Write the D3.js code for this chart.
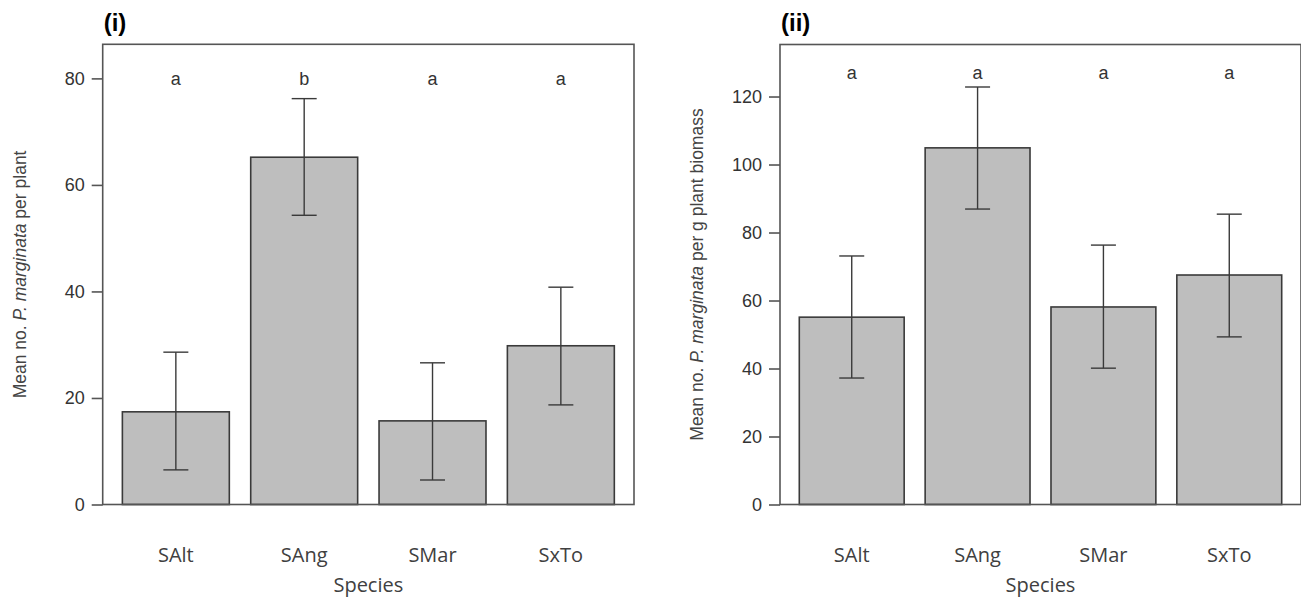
<!DOCTYPE html>
<html>
<head>
<meta charset="utf-8">
<script src="https://cdn.jsdelivr.net/npm/d3@7"></script>
<style>
  body { margin: 0; background: #fff; }
  svg { display: block; }
  .tick-label { font-family: "Liberation Sans", Arial, sans-serif; font-size: 18px; fill: #333; }
  .cat-label { font-family: "Open Sans", "Noto Sans", sans-serif; font-size: 20px; fill: #404040; }
  .ytitle { font-family: "Liberation Sans", Arial, sans-serif; font-size: 17.5px; fill: #444; }
  .letter { font-family: "Liberation Sans", Arial, sans-serif; font-size: 18px; fill: #333; }
  .panel { font-family: "Liberation Sans", Arial, sans-serif; font-size: 24px; font-weight: bold; fill: #000; }
</style>
</head>
<body>
<svg id="chart" width="1301" height="600"></svg>
<script>
(function () {

    // data
    var species = ['SAlt', 'SAng', 'SMar', 'SxTo'];

    var perPlantMean = [17.4, 65.2, 15.7, 29.8];
    var perPlantLow = [6.5, 54.3, 4.6, 18.7];
    var perPlantHigh = [28.6, 76.2, 26.6, 40.8];
    var perPlantLetters = ['a', 'b', 'a', 'a'];
    var perPlantTicks = [0, 20, 40, 60, 80];

    var perBiomassMean = [55.1, 104.9, 58.1, 67.5];
    var perBiomassLow = [37.2, 86.9, 40.1, 49.3];
    var perBiomassHigh = [73.1, 122.8, 76.3, 85.4];
    var perBiomassLetters = ['a', 'a', 'a', 'a'];
    var perBiomassTicks = [0, 20, 40, 60, 80, 100, 120];

    var svg = d3.select('#chart');

    drawPanel({
        label: '(i)',
        left: 102.7, right: 634, top: 44.3, bottom: 504.5,
        yMax: 86.4, letterY: 80,
        mean: perPlantMean, low: perPlantLow, high: perPlantHigh,
        letters: perPlantLetters, ticks: perPlantTicks,
        titleX: 20, titleRest: ' per plant'
    });

    drawPanel({
        label: '(ii)',
        left: 780, right: 1301, top: 44.5, bottom: 504.5,
        yMax: 135.3, letterY: 127,
        mean: perBiomassMean, low: perBiomassLow, high: perBiomassHigh,
        letters: perBiomassLetters, ticks: perBiomassTicks,
        titleX: 697, titleRest: ' per g plant biomass'
    });

    function drawPanel(p) {
        var g = svg.append('g');

        // R barplot layout: width 1, space 0.2, 4% padding
        var x = d3.scaleLinear().domain([0.016, 4.984]).range([p.left, p.right]);
        var y = d3.scaleLinear().domain([0, p.yMax]).range([p.bottom, p.top]);

        var barL = function (i) { return x(0.2 + 1.2 * i); };
        var barW = x(1) - x(0);
        var mid = function (i) { return barL(i) + barW / 2; };

        g.selectAll('rect.bar')
            .data(p.mean)
            .enter().append('rect')
                .attr('class', 'bar')
                .attr('x', function (d, i) { return barL(i); })
                .attr('y', function (d) { return y(d); })
                .attr('width', barW)
                .attr('height', function (d) { return y(0) - y(d); })
                .attr('fill', '#bebebe')
                .attr('stroke', '#3a3a3a')
                .attr('stroke-width', 1.6);

        // error bars
        var cap = 12.5;
        var err = g.selectAll('g.err')
            .data(p.mean)
            .enter().append('g')
                .attr('class', 'err')
                .attr('stroke', '#3a3a3a')
                .attr('stroke-width', 1.4);

        err.append('line')
            .attr('x1', function (d, i) { return mid(i); })
            .attr('x2', function (d, i) { return mid(i); })
            .attr('y1', function (d, i) { return y(p.low[i]); })
            .attr('y2', function (d, i) { return y(p.high[i]); });
        err.append('line')
            .attr('x1', function (d, i) { return mid(i) - cap; })
            .attr('x2', function (d, i) { return mid(i) + cap; })
            .attr('y1', function (d, i) { return y(p.high[i]); })
            .attr('y2', function (d, i) { return y(p.high[i]); });
        err.append('line')
            .attr('x1', function (d, i) { return mid(i) - cap; })
            .attr('x2', function (d, i) { return mid(i) + cap; })
            .attr('y1', function (d, i) { return y(p.low[i]); })
            .attr('y2', function (d, i) { return y(p.low[i]); });

        // box
        g.append('rect')
            .attr('x', p.left)
            .attr('y', p.top)
            .attr('width', p.right - p.left)
            .attr('height', p.bottom - p.top)
            .attr('fill', 'none')
            .attr('stroke', '#555')
            .attr('stroke-width', 1.6);

        // y axis
        var axis = d3.axisLeft(y).tickValues(p.ticks).tickSize(11).tickPadding(7);
        var ax = g.append('g')
            .attr('transform', 'translate(' + p.left + ',0)')
            .call(axis);
        ax.select('.domain').remove();
        ax.selectAll('.tick line').attr('stroke', '#555').attr('stroke-width', 1.6);
        ax.selectAll('.tick text')
            .attr('class', 'tick-label')
            .attr('font-family', null)
            .attr('font-size', null)
            .attr('fill', null);
        ax.attr('font-family', null).attr('font-size', null);

        // category labels
        g.selectAll('text.cat')
            .data(species)
            .enter().append('text')
                .attr('class', 'cat-label')
                .attr('x', function (d, i) { return mid(i); })
                .attr('y', 562)
                .attr('text-anchor', 'middle')
                .text(function (d) { return d; });

        g.append('text')
            .attr('class', 'cat-label')
            .attr('x', (p.left + p.right) / 2)
            .attr('y', 592)
            .attr('text-anchor', 'middle')
            .text('Species');

        // significance letters
        g.selectAll('text.letter')
            .data(p.letters)
            .enter().append('text')
                .attr('class', 'letter')
                .attr('x', function (d, i) { return mid(i); })
                .attr('y', y(p.letterY))
                .attr('dy', '0.35em')
                .attr('text-anchor', 'middle')
                .text(function (d) { return d; });

        // y title with italic species name
        var t = g.append('text')
            .attr('class', 'ytitle')
            .attr('text-anchor', 'middle')
            .attr('transform', 'translate(' + p.titleX + ',' + ((p.top + p.bottom) / 2) + ') rotate(-90)')
            .attr('dy', '0.35em');
        t.append('tspan').text('Mean no. ');
        t.append('tspan').attr('font-style', 'italic').text('P. marginata');
        t.append('tspan').text(p.titleRest);

        // panel label
        g.append('text')
            .attr('class', 'panel')
            .attr('x', p.left + 1)
            .attr('y', 31)
            .text(p.label);
    }

})();
</script>
</body>
</html>
